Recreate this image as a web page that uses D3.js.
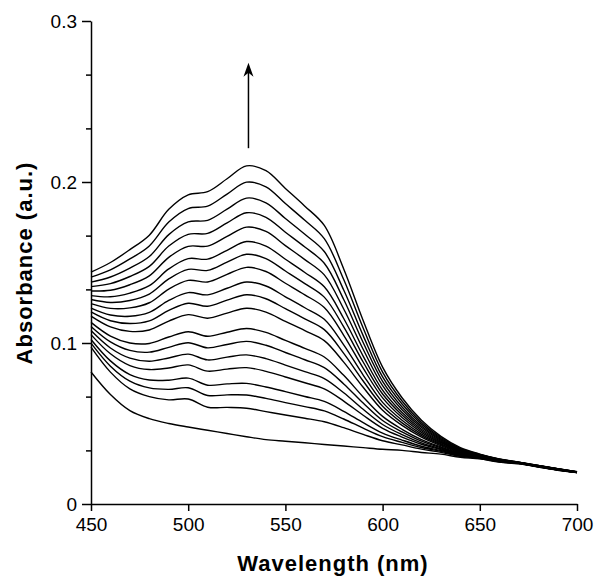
<!DOCTYPE html>
<html>
<head>
<meta charset="utf-8">
<script src="https://cdn.jsdelivr.net/npm/d3@7"></script>
<style>
  body { margin: 0; background: #fff; }
  svg { display: block; }
  .tick text { font-family: "Liberation Sans", Arial, Helvetica, sans-serif; font-size: 19px; fill: #000; }
  .axis-title { font-family: "Liberation Sans", Arial, Helvetica, sans-serif; font-size: 22px; font-weight: bold; letter-spacing: 1px; fill: #000; }
</style>
</head>
<body>
<div id="chart"></div>
<script>
// wavelength grid (nm)
const wavelengths = [450, 460, 470, 480, 490, 500, 510, 520, 530, 540, 550, 560, 570,
                     580, 590, 600, 610, 620, 630, 640, 650, 660, 670, 680, 690, 700];

// absorbance spectra, first scan (bottom) to last scan (top)
const scan00 = [0.0820, 0.0680, 0.0580, 0.0530, 0.0500, 0.0478, 0.0458, 0.0438, 0.0418, 0.0400, 0.0390, 0.0380, 0.0370, 0.0360, 0.0350, 0.0340, 0.0333, 0.0320, 0.0310, 0.0290, 0.0280, 0.0260, 0.0250, 0.0230, 0.0210, 0.0195];
const scan01 = [0.0974, 0.0819, 0.0715, 0.0667, 0.0647, 0.0652, 0.0601, 0.0600, 0.0595, 0.0574, 0.0553, 0.0533, 0.0511, 0.0474, 0.0432, 0.0393, 0.0367, 0.0341, 0.0321, 0.0296, 0.0283, 0.0262, 0.0251, 0.0231, 0.0211, 0.0196];
const scan02 = [0.0999, 0.0856, 0.0763, 0.0721, 0.0712, 0.0722, 0.0674, 0.0678, 0.0677, 0.0656, 0.0630, 0.0605, 0.0578, 0.0528, 0.0471, 0.0418, 0.0383, 0.0351, 0.0327, 0.0299, 0.0285, 0.0263, 0.0252, 0.0232, 0.0212, 0.0196];
const scan03 = [0.1022, 0.0889, 0.0804, 0.0770, 0.0769, 0.0782, 0.0738, 0.0746, 0.0749, 0.0727, 0.0698, 0.0668, 0.0637, 0.0576, 0.0505, 0.0440, 0.0397, 0.0359, 0.0332, 0.0302, 0.0286, 0.0264, 0.0252, 0.0232, 0.0212, 0.0196];
const scan04 = [0.1052, 0.0933, 0.0860, 0.0835, 0.0845, 0.0864, 0.0825, 0.0838, 0.0847, 0.0824, 0.0789, 0.0753, 0.0715, 0.0639, 0.0551, 0.0470, 0.0416, 0.0371, 0.0338, 0.0305, 0.0288, 0.0265, 0.0253, 0.0233, 0.0213, 0.0196];
const scan05 = [0.1077, 0.0969, 0.0906, 0.0887, 0.0907, 0.0931, 0.0895, 0.0912, 0.0926, 0.0903, 0.0863, 0.0822, 0.0779, 0.0691, 0.0588, 0.0494, 0.0431, 0.0380, 0.0343, 0.0308, 0.0289, 0.0266, 0.0253, 0.0233, 0.0213, 0.0197];
const scan06 = [0.1103, 0.1007, 0.0954, 0.0943, 0.0973, 0.1002, 0.0970, 0.0991, 0.1010, 0.0986, 0.0941, 0.0896, 0.0847, 0.0746, 0.0627, 0.0519, 0.0448, 0.0390, 0.0349, 0.0311, 0.0291, 0.0267, 0.0254, 0.0234, 0.0214, 0.0197];
const scan07 = [0.1128, 0.1043, 0.1000, 0.0997, 0.1037, 0.1070, 0.1042, 0.1067, 0.1090, 0.1066, 0.1016, 0.0967, 0.0913, 0.0799, 0.0665, 0.0544, 0.0464, 0.0400, 0.0354, 0.0314, 0.0292, 0.0268, 0.0254, 0.0234, 0.0214, 0.0197];
const scan08 = [0.1167, 0.1100, 0.1072, 0.1081, 0.1136, 0.1176, 0.1154, 0.1186, 0.1216, 0.1192, 0.1134, 0.1077, 0.1015, 0.0881, 0.0725, 0.0582, 0.0488, 0.0415, 0.0362, 0.0318, 0.0294, 0.0270, 0.0255, 0.0235, 0.0215, 0.0197];
const scan09 = [0.1193, 0.1138, 0.1121, 0.1137, 0.1202, 0.1247, 0.1228, 0.1266, 0.1300, 0.1275, 0.1213, 0.1150, 0.1083, 0.0936, 0.0764, 0.0607, 0.0504, 0.0425, 0.0368, 0.0321, 0.0296, 0.0271, 0.0255, 0.0235, 0.0215, 0.0198];
const scan10 = [0.1217, 0.1174, 0.1166, 0.1190, 0.1264, 0.1313, 0.1299, 0.1340, 0.1379, 0.1354, 0.1287, 0.1219, 0.1147, 0.0988, 0.0801, 0.0631, 0.0520, 0.0434, 0.0373, 0.0324, 0.0297, 0.0271, 0.0256, 0.0236, 0.0216, 0.0198];
const scan11 = [0.1245, 0.1215, 0.1218, 0.1250, 0.1335, 0.1389, 0.1379, 0.1426, 0.1470, 0.1444, 0.1371, 0.1299, 0.1220, 0.1048, 0.0844, 0.0659, 0.0537, 0.0445, 0.0379, 0.0328, 0.0299, 0.0273, 0.0256, 0.0236, 0.0216, 0.0198];
const scan12 = [0.1270, 0.1252, 0.1264, 0.1304, 0.1398, 0.1457, 0.1451, 0.1502, 0.1551, 0.1524, 0.1447, 0.1369, 0.1285, 0.1100, 0.0882, 0.0683, 0.0553, 0.0455, 0.0384, 0.0330, 0.0300, 0.0274, 0.0257, 0.0237, 0.0217, 0.0198];
const scan13 = [0.1294, 0.1287, 0.1310, 0.1356, 0.1460, 0.1524, 0.1521, 0.1576, 0.1630, 0.1602, 0.1520, 0.1438, 0.1349, 0.1152, 0.0919, 0.0707, 0.0568, 0.0464, 0.0389, 0.0333, 0.0302, 0.0274, 0.0257, 0.0237, 0.0217, 0.0199];
const scan14 = [0.1323, 0.1328, 0.1362, 0.1417, 0.1532, 0.1600, 0.1602, 0.1662, 0.1720, 0.1693, 0.1605, 0.1518, 0.1423, 0.1211, 0.0961, 0.0735, 0.0586, 0.0475, 0.0395, 0.0336, 0.0303, 0.0275, 0.0258, 0.0238, 0.0218, 0.0199];
const scan15 = [0.1350, 0.1369, 0.1413, 0.1476, 0.1602, 0.1675, 0.1681, 0.1746, 0.1809, 0.1781, 0.1688, 0.1596, 0.1495, 0.1270, 0.1003, 0.0762, 0.0603, 0.0485, 0.0401, 0.0340, 0.0305, 0.0277, 0.0258, 0.0238, 0.0218, 0.0199];
const scan16 = [0.1378, 0.1410, 0.1465, 0.1537, 0.1673, 0.1752, 0.1762, 0.1831, 0.1900, 0.1871, 0.1773, 0.1675, 0.1568, 0.1329, 0.1046, 0.0789, 0.0621, 0.0496, 0.0407, 0.0343, 0.0306, 0.0278, 0.0259, 0.0239, 0.0219, 0.0199];
const scan17 = [0.1409, 0.1454, 0.1522, 0.1603, 0.1751, 0.1835, 0.1850, 0.1925, 0.1999, 0.1970, 0.1866, 0.1762, 0.1648, 0.1394, 0.1093, 0.0819, 0.0640, 0.0508, 0.0413, 0.0346, 0.0308, 0.0279, 0.0259, 0.0239, 0.0219, 0.0200];
const scan18 = [0.1440, 0.1500, 0.1580, 0.1670, 0.1830, 0.1920, 0.1940, 0.2020, 0.2100, 0.2070, 0.1960, 0.1850, 0.1730, 0.1460, 0.1140, 0.0850, 0.0660, 0.0520, 0.0420, 0.0350, 0.0310, 0.0280, 0.0260, 0.0240, 0.0220, 0.0200];

const spectra = [scan00, scan01, scan02, scan03, scan04, scan05, scan06, scan07, scan08, scan09,
                 scan10, scan11, scan12, scan13, scan14, scan15, scan16, scan17, scan18];

// axis ticks
const xTickValues = [450, 500, 550, 600, 650, 700];
const yTickValues = [0, 0.1, 0.2, 0.3];
const yMinorTicks = [0.0333, 0.0667, 0.1333, 0.1667, 0.2333, 0.2667];

// arrow showing the growth direction: [wavelength, from, to]
const arrowAt = [531, 0.221, 0.274];

const width = 594, height = 577;
const margin = {top: 21, right: 17, bottom: 73, left: 91};

const svg = d3.select("#chart").append("svg")
    .attr("width", width)
    .attr("height", height);

const x = d3.scaleLinear()
    .domain([450, 700])
    .range([margin.left, width - margin.right]);

const y = d3.scaleLinear()
    .domain([0, 0.3])
    .range([height - margin.bottom, margin.top]);

// spectra
const line = d3.line()
    .x((d, i) => x(wavelengths[i]))
    .y(d => y(d))
    .curve(d3.curveCatmullRom.alpha(0.5));

svg.append("g")
    .selectAll("path")
    .data(spectra)
    .enter().append("path")
    .attr("d", line)
    .attr("fill", "none")
    .attr("stroke", "#000")
    .attr("stroke-width", 1.4);

// minor y ticks
svg.append("g")
    .attr("transform", `translate(${margin.left},0)`)
    .call(d3.axisLeft(y).tickValues(yMinorTicks).tickSize(5).tickFormat(""))
    .call(g => g.select(".domain").remove())
    .selectAll("line").attr("stroke-width", 1.5);

// y axis
svg.append("g")
    .attr("transform", `translate(${margin.left},0)`)
    .call(d3.axisLeft(y).tickValues(yTickValues).tickSize(9).tickSizeOuter(0).tickPadding(5)
        .tickFormat(d => d === 0 ? "0" : d3.format(".1f")(d)))
    .call(g => g.select(".domain").attr("stroke-width", 1.5))
    .call(g => g.selectAll(".tick line").attr("stroke-width", 1.5));

// x axis
svg.append("g")
    .attr("transform", `translate(0,${height - margin.bottom})`)
    .call(d3.axisBottom(x).tickValues(xTickValues).tickSize(7).tickSizeOuter(0).tickPadding(7))
    .call(g => g.select(".domain").attr("stroke-width", 1.5))
    .call(g => g.selectAll(".tick line").attr("stroke-width", 1.5));

// axis titles
svg.append("text")
    .attr("class", "axis-title")
    .attr("x", 333)
    .attr("y", 571)
    .attr("text-anchor", "middle")
    .text("Wavelength (nm)");

svg.append("text")
    .attr("class", "axis-title")
    .attr("transform", "translate(32,263) rotate(-90)")
    .attr("text-anchor", "middle")
    .text("Absorbance (a.u.)");

// arrow
const ax = x(arrowAt[0]), ay0 = y(arrowAt[1]), ay1 = y(arrowAt[2]);
svg.append("line")
    .attr("x1", ax).attr("y1", ay0)
    .attr("x2", ax).attr("y2", ay1 + 6)
    .attr("stroke", "#000")
    .attr("stroke-width", 1.5);

svg.append("path")
    .attr("d", `M${ax},${ay1} L${ax + 5},${ay1 + 14} L${ax},${ay1 + 10} L${ax - 5},${ay1 + 14} Z`)
    .attr("fill", "#000");
</script>
</body>
</html>
